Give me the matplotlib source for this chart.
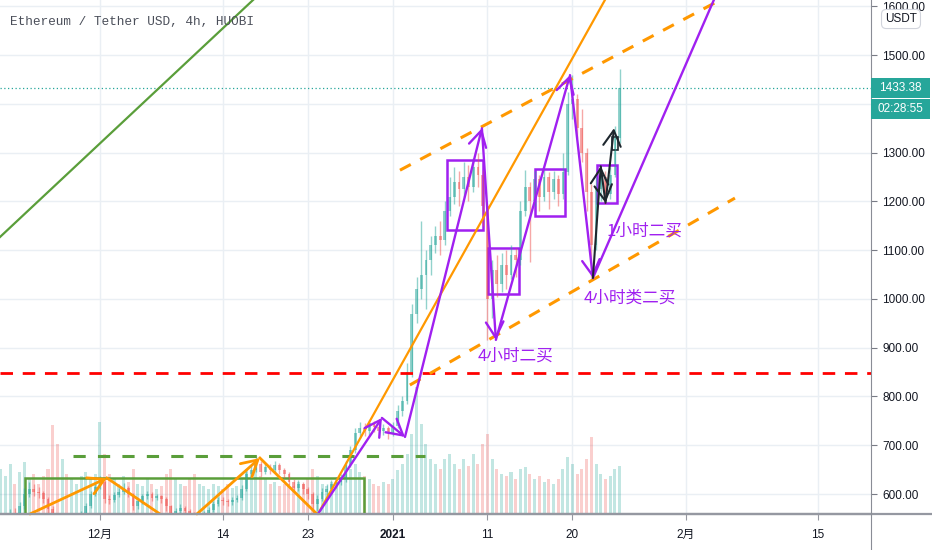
import matplotlib
matplotlib.use("Agg")
import matplotlib.pyplot as plt
from matplotlib.patches import Rectangle
from matplotlib.lines import Line2D
import numpy as np

plt.rcParams['font.family'] = ['Liberation Sans', 'Noto Sans CJK SC', 'DejaVu Sans']

# ---- data: 12h candles, day 0 = 2020-12-01 ----
t0 = -10.5
step = 0.5
open0 = 495
closes = [508, 545, 560, 555, 575, 600, 610, 605, 602, 590, 570, 525,
          515, 520, 512, 530, 540, 560, 575, 600, 615, 625, 590, 588,
          598, 605, 612, 600, 575, 585, 595, 600, 592, 595, 590, 575,
          560, 565, 572, 565, 560, 548, 550, 560, 568, 580, 588, 586,
          583, 588, 592, 610, 640, 650, 662, 645, 655, 650, 660, 650,
          640, 625, 612, 620, 610, 600, 580, 590, 605, 610, 620, 625,
          630, 660, 690, 725, 735, 730, 745, 738, 730, 735, 725, 740,
          770, 790, 850, 970, 1020, 1050, 1080, 1110, 1130, 1120, 1180, 1210,
          1240, 1225, 1250, 1230, 1270, 1255, 1190, 1000, 1060, 1030, 1070, 1050,
          1090, 1080, 1180, 1230, 1200, 1245, 1210, 1250, 1220, 1245, 1215, 1260,
          1400, 1410, 1350, 1300, 1220, 1110, 1225, 1250, 1215, 1255, 1330, 1433]
highs = [520, 552, 570, 572, 584, 612, 624, 620, 614, 606, 594, 575,
         535, 532, 528, 538, 548, 566, 582, 606, 622, 637, 628, 598,
         604, 612, 622, 616, 603, 590, 600, 606, 604, 601, 598, 594,
         578, 572, 580, 576, 570, 563, 556, 566, 574, 585, 594, 594,
         590, 594, 598, 618, 648, 660, 678, 668, 664, 662, 668, 664,
         654, 645, 630, 628, 625, 615, 605, 598, 612, 620, 628, 634,
         640, 668, 698, 735, 748, 745, 752, 750, 742, 744, 740, 748,
         782, 800, 868, 990, 1045, 1160, 1100, 1130, 1150, 1160, 1200, 1250,
         1270, 1262, 1280, 1275, 1290, 1300, 1265, 1195, 1080, 1090, 1095, 1100,
         1110, 1105, 1200, 1265, 1240, 1262, 1255, 1265, 1260, 1262, 1255, 1300,
         1425, 1460, 1420, 1390, 1310, 1235, 1250, 1265, 1262, 1270, 1355, 1472]
lows = [490, 505, 540, 548, 550, 570, 594, 596, 592, 582, 560, 505,
        490, 505, 500, 508, 525, 536, 555, 572, 596, 610, 582, 580,
        584, 594, 600, 594, 568, 570, 580, 590, 585, 588, 582, 566,
        545, 552, 560, 555, 550, 535, 540, 546, 556, 564, 576, 578,
        576, 578, 584, 588, 606, 632, 645, 636, 640, 642, 645, 642,
        632, 618, 604, 606, 600, 590, 560, 565, 585, 598, 604, 612,
        618, 625, 655, 685, 715, 718, 722, 728, 718, 722, 712, 718,
        735, 760, 785, 840, 950, 1000, 980, 1050, 1095, 1090, 1110, 1170,
        1195, 1190, 1210, 1200, 1220, 1230, 1150, 915, 960, 1005, 1015, 1020,
        1040, 1045, 1070, 1170, 1075, 1190, 1180, 1200, 1185, 1205, 1190, 1205,
        1255, 1370, 1330, 1280, 1180, 1045, 1100, 1200, 1195, 1205, 1250, 1320]
volumes = [45, 38, 50, 30, 42, 52, 35, 40, 30, 38, 45,
           89, 70, 55, 40,
           35, 30, 38, 42, 35, 40,
           92, 60,
           40, 35, 30, 38, 32, 45, 30, 28, 35, 30, 25, 28, 40,
           45, 35, 30, 28, 35, 40, 30, 28, 25, 30, 28, 25, 30, 26, 28,
           35, 45, 40, 50, 38, 35, 30, 32, 28, 30,
           30, 28, 32, 30, 35, 45, 38, 30, 28, 32, 30, 35,
           40, 45, 50, 42, 38, 35, 30, 28, 32, 30, 35, 44, 50, 60,
           80, 127, 90, 70, 55, 50,
           45, 55, 60, 50, 45, 55, 48, 60, 50,
           70, 80, 55, 45, 40, 38, 42, 35, 45,
           47, 40, 35, 38, 32, 35, 30, 35, 45,
           57, 50, 40, 45, 55, 77,
           50, 40, 35, 38, 45, 48]
last_price = 1433.38
countdown = "02:28:55"

tick_days = [0, 13, 22, 31, 41, 50, 62, 76]
tick_labels = ['12月', '14', '23', '2021', '11', '20', '2月', '15']
price_ticks = list(range(600, 1700, 100))

# ---- drawings (day, price) ----
green_trend = [(-10.58, 1127), (15.87, 1607)]
green_box = (-7.94, 27.94, 540, 632.8)
green_level = (-2.86, 34.39, 678)
red_level = 848
orange_trend = [(23.07, 559), (53.44, 1613)]
channel_upper = [(31.75, 1264), (67.0, 1627)]
channel_lower = [(32.8, 823.5), (67.2, 1206.8)]
orange_zig1 = [(-7.41, 559), (0.74, 632.8), (6.35, 559)]
orange_zig2 = [(10.26, 559), (16.93, 673.8), (22.96, 559)]
purple_path = [(23.07, 559), (29.84, 756), (32.28, 717), (40.42, 1350),
               (41.9, 916), (49.74, 1459), (52.17, 1043)]
purple_ray = [(52.17, 1043), (66.0, 1659)]
purple_boxes = [(36.72, 40.53, 1141, 1285), (41.06, 44.34, 1010, 1104),
                (46.03, 49.21, 1170, 1266), (52.59, 54.71, 1197, 1275)]
dark_path = [(52.17, 1043), (53.0, 1272), (53.5, 1197), (54.4, 1350)]
dark_box = (54.2, 54.8, 1305, 1332)
labels = [("4小时二买", 44.0, 883), ("1小时二买", 57.6, 1139), ("4小时类二买", 56.1, 1002)]

UP, DOWN = '#26a69a', '#ef5350'
PURPLE, ORANGE, GREEN, DARK = '#a020f0', '#ff9800', '#5a9e3a', '#1e272e'

fig = plt.figure(figsize=(9.32, 5.5), dpi=100)
vax = fig.add_axes([0, 36 / 550, 871 / 932, 514 / 550])
ax = vax.twinx()
ax.set_zorder(vax.get_zorder() + 1)
ax.patch.set_visible(False)

n = len(closes)
days = t0 + step * np.arange(n)
opens = [open0] + closes[:-1]
up = np.array(closes) >= np.array(opens)
cols = np.where(up, UP, DOWN)

# volume
vax.bar(days, volumes, width=0.32, color=cols, alpha=0.28, linewidth=0)
vax.set_ylim(0, 514)
vax.set_yticks([])
vax.set_xlim(-10.58, 81.6)
vax.set_xticks(tick_days)
vax.set_xticklabels(tick_labels)
for lab in vax.get_xticklabels():
    if lab.get_text() == '2021':
        lab.set_fontweight('bold')
vax.tick_params(axis='x', length=4, color='#9598a1', labelsize=8.5,
                labelcolor='#131722', pad=7)
for x in tick_days:
    vax.axvline(x, color='#eaeff4', lw=1, zorder=0)
for p in price_ticks:
    vax.axhline((p - 559) * 514 / (1613 - 559), color='#eaeff4', lw=1, zorder=0)
for s in ['top', 'left', 'right']:
    vax.spines[s].set_visible(False)
vax.spines['bottom'].set_color('#9598a1')
vax.spines['bottom'].set_linewidth(1.6)

# candles
ax.vlines(days, lows, highs, colors=cols, lw=1, alpha=0.5)
bottoms = np.minimum(opens, closes)
heights = np.abs(np.array(closes) - np.array(opens))
ax.bar(days, np.maximum(heights, 2), bottom=bottoms, width=0.3, color=cols,
       alpha=0.5, linewidth=0)

ax.set_xlim(-10.58, 81.6)
ax.set_ylim(559, 1613)
ax.set_yticks(price_ticks)
# the tick label under the last-price boxes is hidden, as on the reference
ax.set_yticklabels(['' if abs(p - last_price) < 45 else '%.2f' % p for p in price_ticks])
ax.tick_params(axis='y', length=4, color='#787b86', labelsize=8.5,
               labelcolor='#131722', pad=4)
for s in ['top', 'left', 'right', 'bottom']:
    ax.spines[s].set_visible(False)

# last price line and labels
ax.axhline(last_price, color=UP, lw=0.9, ls=(0, (1, 2)))
y_fig = ax.transData.transform((0, last_price))[1] / fig.bbox.height
box_h = 20 / 550
x0_fig, w_fig = 871 / 932, 59 / 932
for k, txt in enumerate(['%.2f' % last_price, countdown]):
    yb = y_fig - box_h / 2 - k * (box_h + 1.5 / 550)
    fig.add_artist(Rectangle((x0_fig, yb), w_fig, box_h, transform=fig.transFigure,
                             fc=UP, ec='none', zorder=5))
    fig.text(x0_fig + w_fig / 2, yb + box_h / 2, txt, color='white', fontsize=8.5,
             ha='center', va='center', zorder=6)

# drawings
ax.axline(*green_trend, color=GREEN, lw=1.6)
gx0, gx1, gy0, gy1 = green_box
ax.add_patch(Rectangle((gx0, gy0), gx1 - gx0, gy1 - gy0, fill=False, ec=GREEN, lw=1.8))
ax.plot([green_level[0], green_level[1]], [green_level[2]] * 2, color=GREEN, lw=2.2,
        dashes=(4, 4))
ax.axhline(red_level, color='#ff0000', lw=2, dashes=(4.5, 3.5))
ax.axline(*orange_trend, color=ORANGE, lw=1.6)
for seg in (channel_upper, channel_lower):
    ax.plot([seg[0][0], seg[1][0]], [seg[0][1], seg[1][1]], color=ORANGE, lw=2.2,
            dashes=(4, 3.5))


def arrow(a, b, color, lw):
    ax.annotate('', xy=b, xytext=a,
                arrowprops=dict(arrowstyle='->,head_length=0.8,head_width=0.45',
                                color=color, lw=lw, shrinkA=0, shrinkB=0,
                                mutation_scale=14))


for zig in (orange_zig1, orange_zig2):
    arrow(zig[0], zig[1], ORANGE, 2)
    ax.plot([zig[1][0], zig[2][0]], [zig[1][1], zig[2][1]], color=ORANGE, lw=2)

for a, b in zip(purple_path[:-1], purple_path[1:]):
    arrow(a, b, PURPLE, 1.7)
ax.plot([purple_ray[0][0], purple_ray[1][0]], [purple_ray[0][1], purple_ray[1][1]],
        color=PURPLE, lw=1.7)
for x0, x1, y0, y1 in purple_boxes:
    ax.add_patch(Rectangle((x0, y0), x1 - x0, y1 - y0, fill=False, ec=PURPLE, lw=1.8))

for a, b in zip(dark_path[:-1], dark_path[1:]):
    arrow(a, b, DARK, 1.5)
ax.add_patch(Rectangle((dark_box[0], dark_box[2]), dark_box[1] - dark_box[0],
                       dark_box[3] - dark_box[2], fill=False, ec=DARK, lw=1.2))

for txt, x, y in labels:
    ax.text(x, y, txt, color=PURPLE, fontsize=12, ha='center', va='center',
            family=['Noto Sans CJK SC'])

# frame pieces
fig.add_artist(Line2D([0, 1], [36 / 550] * 2, color='#9598a1', lw=1.6))
fig.add_artist(Line2D([871 / 932] * 2, [0, 1], color='#8a8d96', lw=0.8))
fig.text(10 / 932, 1 - 22 / 550, "Ethereum / Tether USD, 4h, HUOBI", family='Liberation Mono',
         fontsize=9.2, color='#4a4e59', va='center', ha='left')
fig.text(901 / 932, 1 - 19 / 550, "USDT", fontsize=8.5, color='#131722', ha='center',
         va='center', zorder=6,
         bbox=dict(boxstyle='round,pad=0.3,rounding_size=0.4', fc='white',
                   ec='#d1d4dc', lw=0.8))

fig.savefig('out.png', dpi=100, facecolor='white')
